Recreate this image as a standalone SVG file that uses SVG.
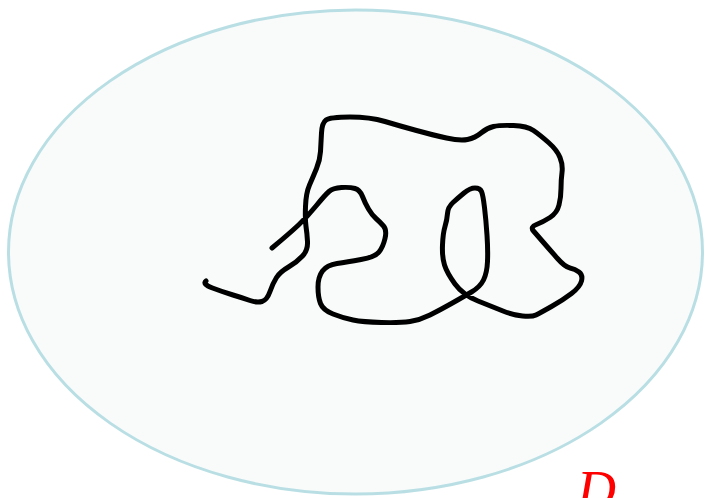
<svg xmlns="http://www.w3.org/2000/svg" width="705" height="498" viewBox="0 0 705 498">
<style>
.region{fill:#f9fbfb;stroke:#b9dfe4;stroke-width:3}
.curve{fill:none;stroke:#000;stroke-width:5;stroke-linecap:round;stroke-linejoin:round}
.lbl{font-family:"Liberation Serif","DejaVu Serif",serif;font-style:italic;font-size:54px;fill:#ff0000}
</style>
<rect width="705" height="498" fill="#ffffff"/>
<g id="domain">
<ellipse class="region" cx="355.5" cy="252" rx="347" ry="242"/>
</g>
<g id="connectors">
<path class="curve" d="M206,281 Q202,284 212.5,288 Q223,292 233,295 Q243,298 250,300.5 Q257,303 262,301.5 Q267,300 270,291.5 Q273,283 276.5,277.5 Q280,272 288.5,267 Q297,262 302.5,256 Q308,250 307.5,241.5 Q307,233 306,226.5 Q305,220 305.5,206.5 Q306,193 309.5,185 Q313,177 316.5,168.5 Q320,160 320.5,151.5 Q321,143 321.5,133 Q322,123 326,120 Q330,117 350,117 Q370,117 385,121.5 Q400,126 416.5,130.5 Q433,135 446.5,138 Q460,141 467.5,139.5 Q475,138 481,133 Q487,128 493.5,126.5 Q500,125 513.5,125.5 Q527,126 533.5,130.5 Q540,135 548.5,142.5 Q557,150 560,157.5 Q563,165 562,172.5 Q561,180 561,188.5 Q561,197 559,205 Q557,213 550,217.5 Q543,222 536.5,224.5 Q530,227 533.5,231 Q537,235 543.5,242.5 Q550,250 557.5,258.5 Q565,267 570,268 Q575,269 579,272 Q583,275 581.5,281 Q580,287 571.5,293.5 Q563,300 551.5,306.5 Q540,313 536,315 Q532,317 522.5,316 Q513,315 503,311 Q493,307 478,301 Q463,295 455,284 Q447,273 444.5,265 Q442,257 442.5,245 Q443,233 445,226.5 Q447,220 447.5,213.5 Q448,207 453,202.5 Q458,198 464,193 Q470,188 475,188 Q480,188 481.5,191.5 Q483,195 484.5,207.5 Q486,220 487,235 Q488,250 487.5,261.5 Q487,273 483.5,280 Q480,287 471.5,292 Q463,297 451.5,303.5 Q440,310 430,315 Q420,320 410,321.5 Q400,323 381.5,322.5 Q363,322 353,320 Q343,318 333,314 Q323,310 320.5,303.5 Q318,297 318,287 Q318,277 322.5,271 Q327,265 337,263.5 Q347,262 361,259.5 Q375,257 379,252 Q383,247 385,238.5 Q387,230 383.5,226 Q380,222 376,218.5 Q372,215 368.5,209 Q365,203 362.5,196.5 Q360,190 355,188.5 Q350,187 341.5,187.5 Q333,188 329,191.5 Q325,195 316,206 Q307,217 298.5,225 Q290,233 272,248"/>
</g>
<g id="label-D">
<text class="lbl" x="577" y="508">D</text>
</g>
</svg>
